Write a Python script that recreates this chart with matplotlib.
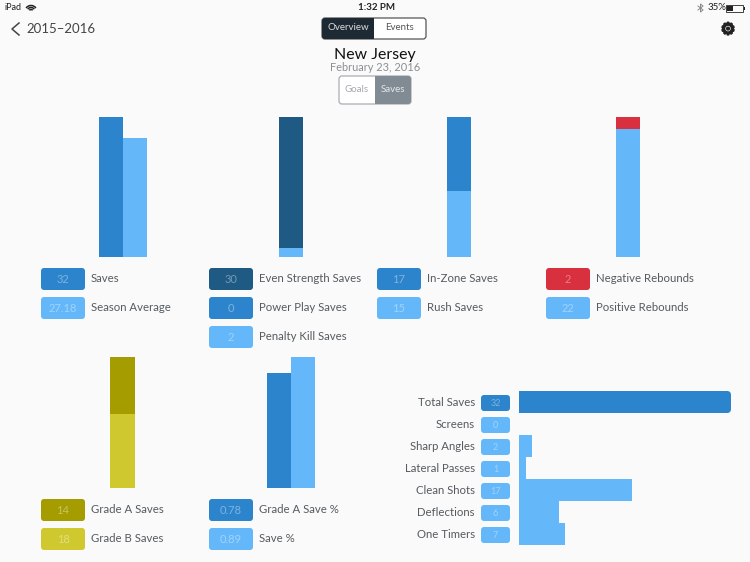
import matplotlib
matplotlib.use('Agg')
from matplotlib import pyplot as plt
from matplotlib import patheffects
from matplotlib.colors import to_rgb
from matplotlib.patches import FancyBboxPatch, Rectangle, Arc

plt.rcParams['font.family'] = ['Lato', 'DejaVu Sans']

# Game values
saves = [32, 27.18]
save_labels = ['Saves', 'Season Average']
strength = [30, 0, 2]
strength_labels = ['Even Strength Saves', 'Power Play Saves', 'Penalty Kill Saves']
zone = [17, 15]
zone_labels = ['In-Zone Saves', 'Rush Saves']
rebounds = [2, 22]
rebound_labels = ['Negative Rebounds', 'Positive Rebounds']
grade = [14, 18]
grade_labels = ['Grade A Saves', 'Grade B Saves']
pct = [0.78, 0.89]
pct_labels = ['Grade A Save %', 'Save %']
types = ['Total Saves', 'Screens', 'Sharp Angles', 'Lateral Passes', 'Clean Shots', 'Deflections', 'One Timers']
type_values = [32, 0, 2, 1, 17, 6, 7]

DARK = '#1f5a85'
MID = '#2c85cc'
LIGHT = '#64b8fa'
RED = '#d8303f'
OLIVE = '#a59c00'
YELLOW = '#cfc92f'
TEXT = '#555b60'
BG = '#fafafa'

W, H = 750, 562
fig = plt.figure(figsize=(W / 100, H / 100), dpi=100, facecolor=BG)

# Overlay in pixel coordinates for the app chrome and the chips
ov = fig.add_axes([0, 0, 1, 1], zorder=0)
ov.set_xlim(0, W)
ov.set_ylim(H, 0)
ov.axis('off')


def pixel_axes(x0, y0, x1, y1):
    ax = fig.add_axes([x0 / W, 1 - y1 / H, (x1 - x0) / W, (y1 - y0) / H], zorder=1)
    ax.axis('off')
    return ax


def rounded(x, y, w, h, **kw):
    ov.add_patch(FancyBboxPatch((x + 3, y + 3), w - 6, h - 6, boxstyle='round,pad=3,rounding_size=3', **kw))


def chip(x, y, w, h, color, value, size=8):
    rounded(x, y, w, h, fc=color, ec='none')
    # value text is a pale tint of the chip colour
    tint = [c + (1 - c) * 0.38 for c in to_rgb(color)]
    ov.text(x + w / 2, y + h / 2 + 0.5, str(value), color=tint, fontsize=size, ha='center', va='center')


def legend(x, y, values, labels, colors):
    for i in range(len(values)):
        top = y + i * 29
        chip(x, top, 44, 22, colors[i], values[i])
        ov.text(x + 50, top + 10.5, labels[i], color=TEXT, fontsize=8.2, va='center')


def segmented(x, y, w, h, split, left, right, left_fill, right_fill, left_col, right_col, edge):
    rounded(x, y, w, h, fc='white', ec=edge, lw=0.9)
    if left_fill:
        rounded(x, y, split, h, fc=left_fill, ec='none')
        ov.add_patch(Rectangle((x + split - 4, y), 4, h, fc=left_fill, ec='none'))
    if right_fill:
        rounded(x + split, y, w - split, h, fc=right_fill, ec='none')
        ov.add_patch(Rectangle((x + split, y), 4, h, fc=right_fill, ec='none'))
    ov.text(x + split / 2, y + h / 2 - 1, left, color=left_col, fontsize=7, ha='center', va='center')
    ov.text(x + split + (w - split) / 2, y + h / 2 - 1, right, color=right_col, fontsize=7, ha='center', va='center')


# Status bar
ov.text(4, 8, 'iPad', fontsize=6.5, color='#222222', va='center')
for r in (4, 8, 12):
    ov.add_patch(Arc((31, 11.5), r, r, theta1=215, theta2=325, color='#222222', lw=1.1))
ov.text(376, 8, '1:32 PM', fontsize=7, color='#222222', ha='center', va='center', fontweight='bold')
ov.plot([698, 703, 700.5, 700.5, 703, 698], [6, 10, 12, 4, 6, 10], color='#888888', lw=0.7)
ov.text(708, 8, '35%', fontsize=7, color='#222222', va='center')
ov.add_patch(Rectangle((726, 4.5), 17, 7, fc='none', ec='#222222', lw=0.6))
ov.add_patch(Rectangle((727, 5.5), 5.5, 5, fc='#222222', ec='none'))
ov.add_patch(Rectangle((743.5, 6.5), 1.2, 3, fc='#222222', ec='none'))

# Navigation bar
ov.plot([19, 12, 19], [23, 29, 35], color='#444444', lw=1.1)
ov.text(26, 29, '2015–2016', fontsize=9.5, color='#444444', va='center')
segmented(322, 18, 104, 21, 52, 'Overview', 'Events', '#1e2a33', None, '#dddddd', '#555555', '#555555')
gear = ov.text(728, 29.5, '⚙', fontsize=12, color='#222222', ha='center', va='center', family='DejaVu Sans')
gear.set_path_effects([patheffects.withStroke(linewidth=1.2, foreground='#222222')])

# Title
ov.text(375, 54.5, 'New Jersey', fontsize=11.4, color='#111111', ha='center', va='center')
ov.text(375, 67.5, 'February 23, 2016', fontsize=7.9, color='#8a8f93', ha='center', va='center')
segmented(339, 76, 72, 28, 36, 'Goals', 'Saves', None, '#808b93', '#a5a9ad', '#e6e8ea', '#a9adb1')

# Saves vs season average
ax = pixel_axes(99, 117, 147, 257)
ax.bar([0, 1], saves, width=1, color=[MID, LIGHT])
ax.set_xlim(-0.5, 1.5)
ax.set_ylim(0, max(saves))
legend(41, 268, saves, save_labels, [MID, LIGHT])

# Strength stacked bar
ax = pixel_axes(279, 117, 303, 257)
ax.bar(0, strength[2], width=1, color=LIGHT)
ax.bar(0, strength[1], width=1, bottom=strength[2], color=MID)
ax.bar(0, strength[0], width=1, bottom=strength[2] + strength[1], color=DARK)
ax.set_xlim(-0.5, 0.5)
ax.set_ylim(0, sum(strength))
legend(209, 268, strength, strength_labels, [DARK, MID, LIGHT])

# Zone stacked bar
ax = pixel_axes(447, 117, 471, 257)
ax.bar(0, zone[1], width=1, color=LIGHT)
ax.bar(0, zone[0], width=1, bottom=zone[1], color=MID)
ax.set_xlim(-0.5, 0.5)
ax.set_ylim(0, sum(zone))
legend(377, 268, zone, zone_labels, [MID, LIGHT])

# Rebounds stacked bar
ax = pixel_axes(616, 117, 640, 257)
ax.bar(0, rebounds[1], width=1, color=LIGHT)
ax.bar(0, rebounds[0], width=1, bottom=rebounds[1], color=RED)
ax.set_xlim(-0.5, 0.5)
ax.set_ylim(0, sum(rebounds))
legend(546, 268, rebounds, rebound_labels, [RED, LIGHT])

# Grade stacked bar
ax = pixel_axes(110, 357, 135, 488)
ax.bar(0, grade[1], width=1, color=YELLOW)
ax.bar(0, grade[0], width=1, bottom=grade[1], color=OLIVE)
ax.set_xlim(-0.5, 0.5)
ax.set_ylim(0, sum(grade))
legend(41, 499, grade, grade_labels, [OLIVE, YELLOW])

# Save percentages
ax = pixel_axes(267, 357, 315, 488)
ax.bar([0, 1], pct, width=1, color=[MID, LIGHT])
ax.set_xlim(-0.5, 1.5)
ax.set_ylim(0, max(pct))
legend(209, 499, pct, pct_labels, [MID, LIGHT])

# Save types, horizontal bars
ax = pixel_axes(519, 391, 731, 545)
bars = ax.barh(range(len(types)), type_values, height=1,
               color=[MID] + [LIGHT] * (len(types) - 1))
ax.set_xlim(0, max(type_values))
ax.set_ylim(len(types) - 0.5, -0.5)
clip = FancyBboxPatch((505, 394), 223, 16, boxstyle='round,pad=3,rounding_size=4',
                      transform=ov.transData, fc='none', ec='none')
bars[0].set_clip_path(clip)
for i in range(len(types)):
    top = 395 + i * 22
    chip(481, top, 29, 16, MID if i == 0 else LIGHT, type_values[i], size=6.5)
    ov.text(475, top + 7.5, types[i], color=TEXT, fontsize=8.2, ha='right', va='center')

fig.savefig('out.png', dpi=100, facecolor=BG)
